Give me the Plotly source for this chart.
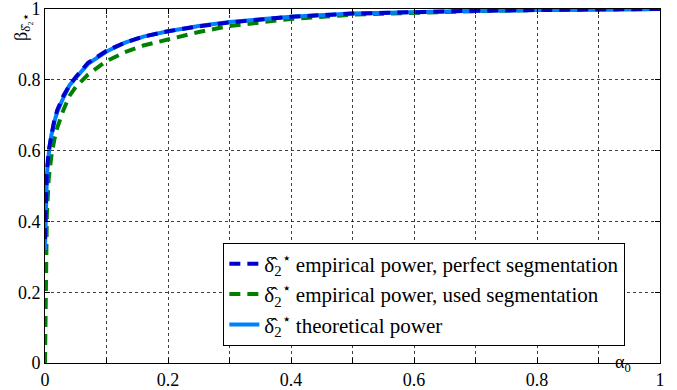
import plotly.graph_objects as go

alpha = [0, 0.001, 0.003, 0.006, 0.01, 0.015, 0.02, 0.03, 0.04, 0.05, 0.07, 0.1,
         0.13, 0.16, 0.2, 0.25, 0.3, 0.35, 0.4, 0.5, 0.6, 0.7, 0.8, 0.9, 1.0]
theoretical = [0.32, 0.45, 0.53, 0.59, 0.64, 0.68, 0.71, 0.75, 0.785, 0.805, 0.845, 0.88,
               0.905, 0.922, 0.937, 0.952, 0.963, 0.971, 0.978, 0.987, 0.992, 0.995, 0.997, 0.999, 1.0]
perfect = [0.35, 0.46, 0.54, 0.60, 0.645, 0.685, 0.715, 0.755, 0.785, 0.808, 0.848, 0.882,
           0.905, 0.922, 0.937, 0.951, 0.962, 0.971, 0.978, 0.987, 0.992, 0.995, 0.997, 0.999, 1.0]
used = [0.0, 0.25, 0.42, 0.52, 0.58, 0.63, 0.665, 0.715, 0.755, 0.78, 0.815, 0.853,
        0.878, 0.897, 0.915, 0.935, 0.952, 0.963, 0.972, 0.984, 0.99, 0.994, 0.997, 0.999, 1.0]

x_tickvals = [0, 0.1, 0.2, 0.3, 0.4, 0.5, 0.6, 0.7, 0.8, 0.9, 1.0]
x_ticktext = ["0", "", "0.2", "", "0.4", "", "0.6", "", "0.8", "", "1"]
y_tickvals = [0, 0.2, 0.4, 0.6, 0.8, 1.0]
y_ticktext = ["0", "0.2", "0.4", "0.6", "0.8", "1"]

sym = "δ\u0302<sub>2</sub><sup>⋆</sup>"
FONT = "Liberation Serif"

fig = go.Figure()
fig.add_trace(go.Scatter(x=alpha, y=used, mode="lines",
                         name=f"{sym} empirical power, used segmentation",
                         line=dict(color="#008000", width=4, dash="11px,7px"), legendrank=2))
fig.add_trace(go.Scatter(x=alpha, y=theoretical, mode="lines",
                         name=f"{sym} theoretical power",
                         line=dict(color="#0080FF", width=4), legendrank=3))
fig.add_trace(go.Scatter(x=alpha, y=perfect, mode="lines",
                         name=f"{sym} empirical power, perfect segmentation",
                         line=dict(color="#0000CC", width=4, dash="11px,7px"), legendrank=1))

axis_common = dict(showline=True, linecolor="black", linewidth=1, mirror="ticks",
                   ticks="inside", ticklen=5, tickcolor="black", automargin=False,
                   ticklabeloverflow="allow",
                   showgrid=True, gridcolor="rgba(0,0,0,0.75)", gridwidth=1, griddash="dot",
                   zeroline=False)

fig.update_xaxes(range=[0, 1], tickvals=x_tickvals, ticktext=x_ticktext, **axis_common)
fig.update_yaxes(range=[0, 1], tickvals=y_tickvals, ticktext=y_ticktext, **axis_common)
fig.update_xaxes(tickfont_family=FONT, tickfont_size=18, tickfont_color="black")
fig.update_yaxes(tickfont_family=FONT, tickfont_size=18, tickfont_color="black")

fig.add_annotation(x=0.94, y=0, xref="x", yref="paper", yshift=-14, showarrow=False,
                   text="α<sub>0</sub>", font=dict(family=FONT, size=18, color="black"))
fig.add_annotation(x=-0.037, y=0.95, xref="paper", yref="paper", showarrow=False,
                   xanchor="center", yanchor="middle",
                   textangle=-90, text="β<sub>δ\u0302₂⋆</sub>",
                   font=dict(family=FONT, size=18, color="black"))

fig.update_layout(
    width=677, height=390,
    margin=dict(l=45, r=17, t=9, b=27),
    paper_bgcolor="white", plot_bgcolor="white",
    font_family=FONT, font_size=18, font_color="black",
    legend=dict(x=0.29, y=0.34, xanchor="left", yanchor="top",
                bgcolor="white", bordercolor="black", borderwidth=1,
                font=dict(family=FONT, size=21, color="black"),
                tracegroupgap=0, itemwidth=30),
    showlegend=True,
)

fig.write_html("out.html")
